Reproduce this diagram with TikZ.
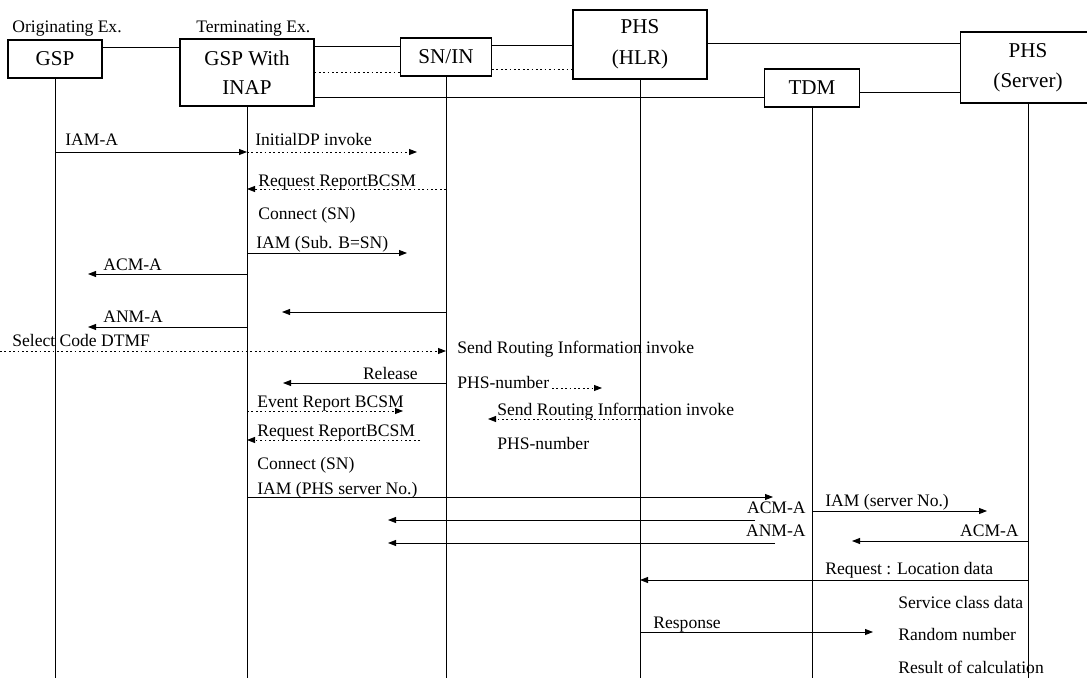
\documentclass[tikz,border=0pt]{standalone}
\usepackage{fontspec}
\setmainfont{Liberation Serif}
\usetikzlibrary{arrows.meta}
\begin{document}
\begin{tikzpicture}[x=0.02cm,y=-0.02cm,
  box/.style={draw,line width=0.6pt,inner sep=0pt,align=center,font=\fontsize{12}{16.5}\selectfont},
  lbl/.style={inner sep=0pt,anchor=base west,font=\fontsize{10}{12}\selectfont},
  lblr/.style={lbl,anchor=base east},
  life/.style={line width=0.5pt},
  conn/.style={line width=0.5pt},
  dconn/.style={conn,dash pattern=on 1pt off 1.5pt},
  msg/.style={line width=0.5pt,-{Triangle[length=1.6mm,width=1.2mm]}},
  dmsg/.style={msg,dash pattern=on 1pt off 1.5pt}]
\useasboundingbox (0,0) rectangle (1087,678);

% headers
\node[lbl] (horig) at (12,33) {Originating Ex.};
\node[lbl] (hterm) at (196,33) {Terminating Ex.};

% boxes
\node[box,minimum width=1.88cm,minimum height=0.76cm] (gsp) at (55,59) {GSP};
\node[box,minimum width=2.68cm,minimum height=1.34cm] (inap) at (247,72.5) {GSP With\\INAP};
\node[box,minimum width=1.82cm,minimum height=0.76cm] (sn) at (446,57) {SN/IN};
\node[box,minimum width=2.68cm,minimum height=1.38cm,font=\fontsize{12}{17.5}\selectfont] (hlr) at (640,44.5) {PHS\\(HLR)};
\node[box,minimum width=1.9cm,minimum height=0.76cm] (tdm) at (812,88) {TDM};
\node[box,minimum width=2.72cm,minimum height=1.42cm,font=\fontsize{12}{17}\selectfont] (srv) at (1028,67.5) {PHS\\(Server)};

% links between boxes
\draw[conn] (gsp.east |- 0,47) -- (inap.west |- 0,47);
\draw[conn] (inap.east |- 0,46) -- (sn.west |- 0,46);
\draw[conn] (sn.east |- 0,45) -- (hlr.west |- 0,45);
\draw[conn] (hlr.east |- 0,43) -- (srv.west |- 0,43);
\draw[dconn] (inap.east |- 0,72) -- (sn.west |- 0,72);
\draw[dconn] (sn.east |- 0,69) -- (hlr.west |- 0,69);
\draw[conn] (inap.east |- 0,97) -- (tdm.west |- 0,97);
\draw[conn] (tdm.east |- 0,92) -- (srv.west |- 0,92);

% lifelines
\coordinate (bot) at (0,678);
\foreach \n in {gsp,inap,sn,hlr,tdm,srv}
  \draw[life] (\n.south) -- (\n.south |- bot);

% messages
\node[lbl] (m1) at (65,146) {IAM-A};
\draw[msg] (gsp |- 0,152) -- (inap |- 0,152);
\node[lbl] (m2) at (255,146) {InitialDP invoke};
\coordinate (e2) at (417,152);
\draw[dmsg] (inap |- 0,152) -- (e2);
\node[lbl] (m3) at (258,187) {Request ReportBCSM};
\draw[dmsg] (sn |- 0,189) -- (inap |- 0,189);
\node[lbl] (m4) at (258,220) {Connect (SN)};
\node[lbl] (m5) at (256,249) {IAM (Sub. B=SN)};
\coordinate (e5) at (407,253);
\draw[msg] (inap |- 0,253) -- (e5);
\node[lbl] (m6) at (103,271) {ACM-A};
\coordinate (e6) at (88,274);
\draw[msg] (inap |- 0,274) -- (e6);
\coordinate (e7) at (282,312);
\draw[msg] (sn |- 0,312) -- (e7);
\node[lbl] (m8) at (103,323) {ANM-A};
\coordinate (e8) at (88,327);
\draw[msg] (inap |- 0,327) -- (e8);
\node[lbl] (m9) at (12,347) {Select Code DTMF};
\coordinate (s9) at (0,351);
\draw[dmsg] (s9) -- (sn |- 0,351);
\node[lbl] (m10) at (457,354) {Send Routing Information invoke};
\node[lblr] (m11) at (418,379) {Release};
\coordinate (e11) at (283,383);
\draw[msg] (sn |- 0,383) -- (e11);
\node[lbl] (m12) at (457,388) {PHS-number};
\coordinate (e12) at (602,388);
\draw[dmsg] ([xshift=1.5pt]m12.base east) -- (e12);
\node[lbl] (m13) at (257,407) {Event Report BCSM};
\coordinate (e13) at (403,411);
\draw[dmsg] (inap |- 0,411) -- (e13);
\node[lbl] (m15) at (497,415) {Send Routing Information invoke};
\coordinate (e15) at (488,419);
\draw[dmsg] (hlr |- 0,419) -- (e15);
\node[lbl] (m14) at (257,436) {Request ReportBCSM};
\coordinate (s14) at (420,440);
\draw[dmsg] (s14) -- (inap |- 0,440);
\node[lbl] (m16) at (497,449) {PHS-number};
\node[lbl] (m17) at (257,469) {Connect (SN)};
\node[lbl] (m18) at (257,494) {IAM (PHS server No.)};
\coordinate (e18) at (773,497);
\draw[msg] (inap |- 0,497) -- (e18);
\node[lblr] (m19) at (806,513) {ACM-A};
\coordinate (s19) at (755,520);
\coordinate (e19) at (388,520);
\draw[msg] (s19) -- (e19);
\node[lblr] (m20) at (806,536) {ANM-A};
\coordinate (s20) at (775,543);
\coordinate (e20) at (388,543);
\draw[msg] (s20) -- (e20);
\node[lbl] (m21) at (825,506) {IAM (server No.)};
\coordinate (e21) at (987,511);
\draw[msg] (tdm |- 0,511) -- (e21);
\node[lblr] (m22) at (1019,536) {ACM-A};
\coordinate (e22) at (852,541);
\draw[msg] (srv |- 0,541) -- (e22);
\node[lbl] (m23) at (825,574) {Request : Location data};
\draw[msg] (srv |- 0,580) -- (hlr |- 0,580);
\node[lbl] (m24) at (898,608) {Service class data};
\node[lbl] (m25) at (653,628) {Response};
\coordinate (e25) at (873,632);
\draw[msg] (hlr |- 0,632) -- (e25);
\node[lbl] (m26) at (898,640) {Random number};
\node[lbl] (m27) at (898,673) {Result of calculation};
\end{tikzpicture}
\end{document}
